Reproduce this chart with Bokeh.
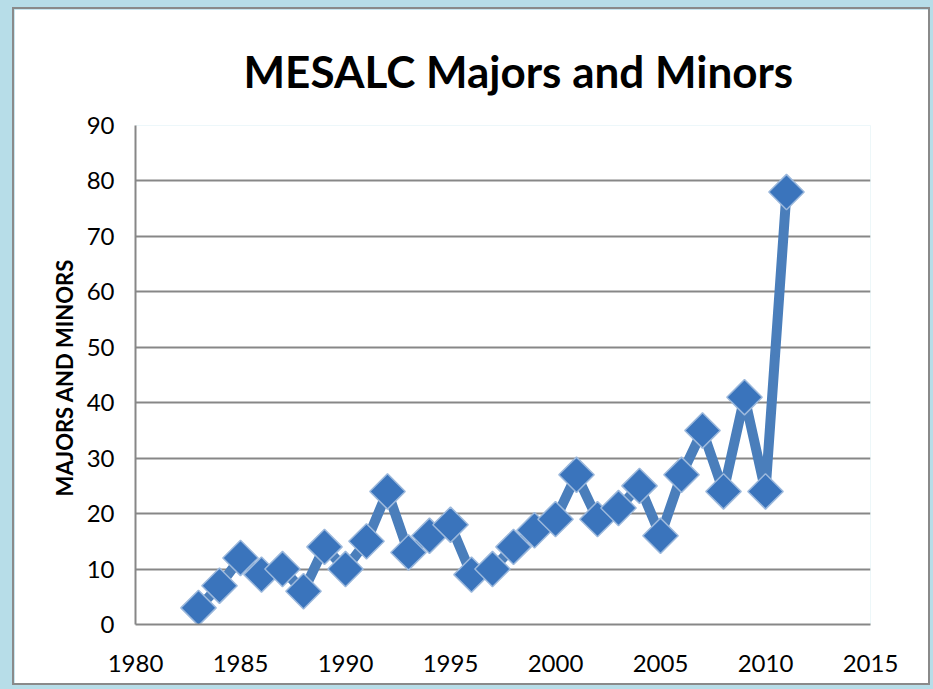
from bokeh.plotting import figure
from bokeh.embed import file_html
from bokeh.resources import INLINE
from bokeh.models import FixedTicker, GlobalInlineStyleSheet, ColumnDataSource
import numpy as np

# ---- data ----
years = [1983, 1984, 1985, 1986, 1987, 1988, 1989, 1990, 1991, 1992,
         1993, 1994, 1995, 1996, 1997, 1998, 1999, 2000, 2001, 2002,
         2003, 2004, 2005, 2006, 2007, 2008, 2009, 2010, 2011]
majors_minors = [3, 7, 12, 9, 10, 6, 14, 10, 15, 24,
                 13, 16, 18, 9, 10, 14, 17, 19, 27, 19,
                 21, 25, 16, 27, 35, 24, 41, 24, 78]
x_ticks = [1980, 1985, 1990, 1995, 2000, 2005, 2010, 2015]
y_ticks = [0, 10, 20, 30, 40, 50, 60, 70, 80, 90]

TITLE = "MESALC Majors and Minors"
YLABEL = "MAJORS  AND MINORS"

src = ColumnDataSource(dict(x=years, y=majors_minors))

p = figure(width=918, height=678, output_backend="svg", toolbar_location=None,
           x_range=(1980, 2015), y_range=(0, 90),
           min_border_left=121, min_border_right=62,
           min_border_top=116, min_border_bottom=63,
           background_fill_color="white", border_fill_color="white")

p.stylesheets = [GlobalInlineStyleSheet(
    css="html{margin:0;padding:0;background:#b7dde8;} "
        "body{margin:0;padding:7px 0 0 12px;background:#b7dde8;overflow:hidden;}")]
p.styles = {"border": "2px solid #8a8a8a"}

p.title.text = TITLE
p.title.text_font = "Lato"
p.title.text_font_style = "bold"
p.title.text_font_size = "44px"
p.title.align = "left"
p.title.offset = 108
p.title.vertical_align = "top"
p.title.standoff = 54
p.title.text_color = "black"

p.outline_line_color = None
p.xgrid.grid_line_color = None
p.ygrid.grid_line_color = "#878787"
p.ygrid.grid_line_width = 2

p.xaxis.ticker = FixedTicker(ticks=x_ticks)
p.yaxis.ticker = FixedTicker(ticks=y_ticks)
for ax in (p.xaxis, p.yaxis):
    ax.axis_line_color = "#878787"
    ax.axis_line_width = 2
    ax.major_tick_line_color = None
    ax.minor_tick_line_color = None
    ax.major_tick_out = 0
    ax.major_tick_in = 0
    ax.major_label_text_font = "Lato"
    ax.major_label_text_font_size = "24px"
    ax.major_label_text_color = "black"

p.xaxis.major_label_standoff = 30
p.yaxis.major_label_standoff = 21
p.yaxis.axis_label = YLABEL
p.yaxis.axis_label_text_font = "Lato"
p.yaxis.axis_label_text_font_style = "bold"
p.yaxis.axis_label_text_font_size = "22px"
p.yaxis.axis_label_text_color = "black"
p.yaxis.axis_label_standoff = 6

p.line("x", "y", source=src, line_color="#4a7ebb", line_width=10, line_join="round")
p.scatter("x", "y", source=src, marker="square", angle=np.pi / 4, size=25,
          fill_color="#3a74bc", line_color="#9bb8dc", line_width=1.5)

open("out.html", "w").write(file_html(p, INLINE))
